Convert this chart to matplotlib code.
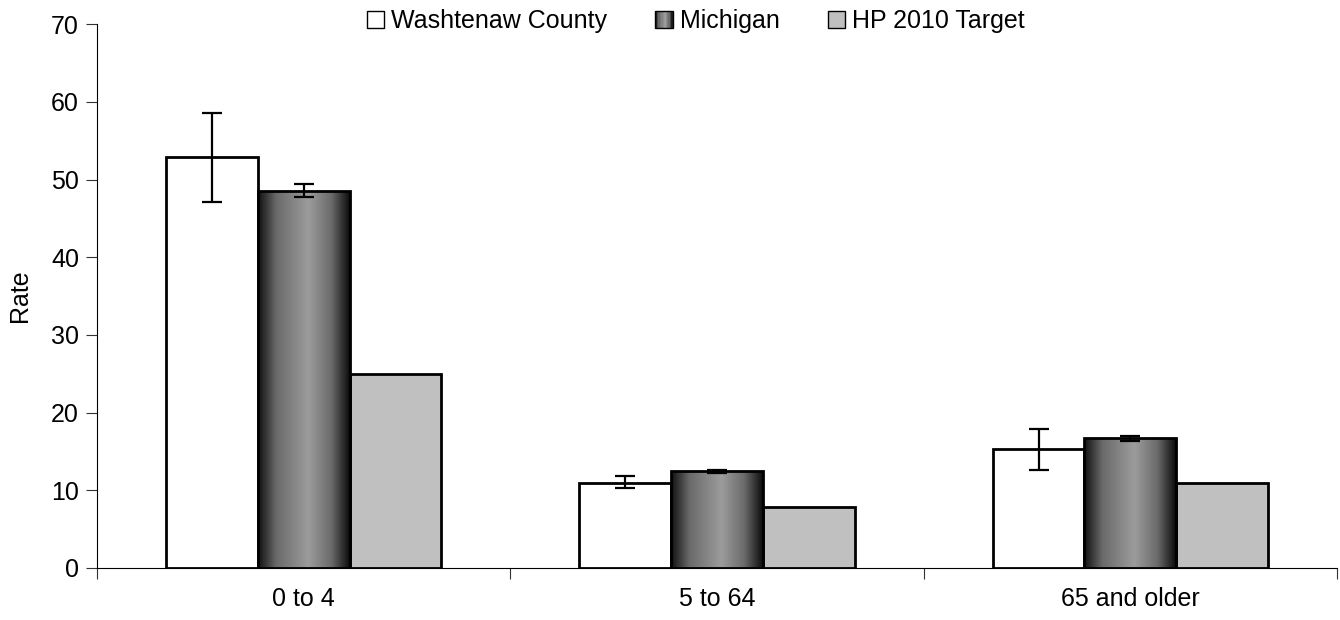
import numpy as np
import matplotlib
matplotlib.use("Agg")
import matplotlib.pyplot as plt
from matplotlib.patches import Rectangle, Patch
from matplotlib.legend_handler import HandlerBase
from matplotlib.colors import LinearSegmentedColormap

plt.rcParams['font.family'] = ['Liberation Sans', 'DejaVu Sans']

categories = ['0 to 4', '5 to 64', '65 and older']
series = ['Washtenaw County', 'Michigan', 'HP 2010 Target']
washtenaw = [52.9, 11.0, 15.3]
washtenaw_lo = [47.1, 10.3, 12.6]
washtenaw_hi = [58.6, 11.8, 17.85]
michigan = [48.5, 12.45, 16.7]
michigan_lo = [47.7, 12.25, 16.35]
michigan_hi = [49.4, 12.6, 17.05]
target = [25.0, 7.8, 11.0]

FS = 18

grad = LinearSegmentedColormap.from_list(
    'cyl', [(0, '#101010'), (0.2, '#6a6a6a'), (0.55, '#9c9c9c'), (0.8, '#6a6a6a'), (1, '#0c0c0c')])


class GradientHandler(HandlerBase):
    def create_artists(self, legend, orig_handle, xd, yd, width, height, fontsize, trans):
        side = height
        x0 = xd + (width - side) / 2
        n = 12
        arts = []
        for i in range(n):
            c = grad((i + 0.5) / n)
            arts.append(Rectangle((x0 + i * side / n, yd), side / n, side, facecolor=c,
                                  edgecolor='none', transform=trans))
        arts.append(Rectangle((x0, yd), side, side, facecolor='none', edgecolor='black',
                              lw=1.0, transform=trans))
        return arts


class SquareHandler(HandlerBase):
    def create_artists(self, legend, orig_handle, xd, yd, width, height, fontsize, trans):
        side = height
        x0 = xd + (width - side) / 2
        return [Rectangle((x0, yd), side, side, facecolor=orig_handle.get_facecolor(),
                          edgecolor='black', lw=1.0, transform=trans)]


fig = plt.figure(figsize=(13.4, 6.2), dpi=100)
ax = fig.add_axes([0.0724, 0.0839, 0.9254, 0.8771])

x = np.arange(len(categories)) + 0.5
w = 1 / 4.5

# Washtenaw
ax.bar(x - w, washtenaw, w, color='white', edgecolor='black', linewidth=2, zorder=2)
ax.errorbar(x - w, washtenaw,
            yerr=[np.array(washtenaw) - np.array(washtenaw_lo), np.array(washtenaw_hi) - np.array(washtenaw)],
            fmt='none', ecolor='black', elinewidth=1.6, capsize=7, capthick=1.6, zorder=4)

# Michigan (cylinder gradient)
gimg = np.linspace(0, 1, 256).reshape(1, -1)
for xi, h in zip(x, michigan):
    ax.imshow(gimg, cmap=grad, extent=[xi - w / 2, xi + w / 2, 0, h], aspect='auto', zorder=2,
              interpolation='bilinear')
ax.bar(x, michigan, w, color='none', edgecolor='black', linewidth=2, zorder=3)
ax.errorbar(x, michigan,
            yerr=[np.array(michigan) - np.array(michigan_lo), np.array(michigan_hi) - np.array(michigan)],
            fmt='none', ecolor='black', elinewidth=1.6, capsize=7, capthick=1.6, zorder=4)

# Target
ax.bar(x + w, target, w, color='#c0c0c0', edgecolor='black', linewidth=2, zorder=2)

ax.set_xlim(0, 3)
ax.set_ylim(0, 70)
ax.set_yticks(range(0, 71, 10))
ax.set_xticks([0, 1, 2, 3])
ax.set_xticklabels([])
ax.set_xticks(x, minor=True)
ax.set_xticklabels(categories, minor=True)
ax.tick_params(axis='x', which='minor', length=0, pad=14, labelsize=FS)
ax.tick_params(axis='x', which='major', length=8, width=0.8, color='#333333')
ax.tick_params(axis='y', length=8, width=0.8, labelsize=FS, pad=5, color='#333333')
for s in ['top', 'right']:
    ax.spines[s].set_visible(False)
ax.spines['left'].set_linewidth(0.8)
ax.spines['bottom'].set_linewidth(0.8)
ax.set_ylabel('Rate', fontsize=FS, labelpad=14)

handles = [Patch(facecolor='white'), Patch(facecolor='#777777'), Patch(facecolor='#c0c0c0')]
fig.legend(handles, series, loc='center', bbox_to_anchor=(0.519, 0.966), ncol=3, frameon=False,
           fontsize=FS, handlelength=0.75, handletextpad=0.25, columnspacing=1.9,
           borderpad=0, borderaxespad=0,
           handler_map={handles[0]: SquareHandler(), handles[1]: GradientHandler(),
                        handles[2]: SquareHandler()})

fig.savefig('out.png', dpi=100)
